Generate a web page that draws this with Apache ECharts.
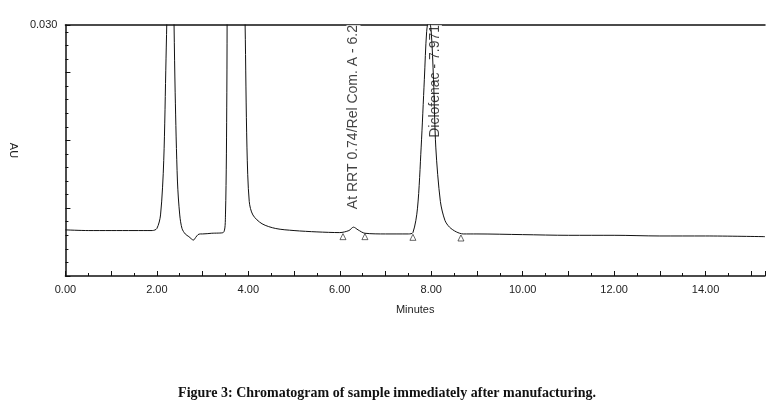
<!DOCTYPE html><html><head><meta charset="utf-8"><script src="https://cdn.jsdelivr.net/npm/echarts@6/dist/echarts.min.js"></script>
<style>body{margin:0;background:#fff}#c{width:774px;height:409px}</style></head><body><div id="c"></div><script>
const times=[0,0.5,1,1.5,1.9,2.0,2.08,2.15,2.2,2.25,2.3,2.35,2.4,2.45,2.5,2.55,2.62,2.7,2.8,2.85,2.9,2.95,3.0,3.2,3.45,3.5,3.53,3.55,3.6,3.7,3.8,3.88,3.93,3.97,4.02,4.1,4.3,4.6,5.0,5.5,6.0,6.2,6.3,6.4,6.55,7.0,7.5,7.6,7.7,7.78,7.85,7.9,7.95,8.0,8.05,8.1,8.2,8.3,8.4,8.55,8.7,9,10,11,12,13,14,15.3];
const au=[-0.0002,-0.0003,-0.0003,-0.0003,-0.0003,0.0,0.002,0.01,0.025,0.04,0.05,0.04,0.02,0.007,0.002,0.0,-0.0008,-0.0012,-0.0017,-0.0013,-0.0009,-0.0008,-0.0008,-0.0007,-0.0006,0.002,0.02,0.05,0.06,0.06,0.06,0.05,0.03,0.012,0.004,0.002,0.0007,0.0,-0.0003,-0.0005,-0.0006,-0.0003,0.0002,-0.0002,-0.0007,-0.0008,-0.0008,-0.0006,0.003,0.012,0.022,0.029,0.031,0.029,0.022,0.012,0.004,0.0012,0.0002,-0.0005,-0.0008,-0.0008,-0.0009,-0.001,-0.001,-0.0011,-0.0011,-0.0012];
const markerTimes=[6.07,6.55,7.6,8.65];
const markerAU=[-0.0012,-0.0012,-0.0013,-0.0014];
const peakLabels=['At RRT 0.74/Rel Com. A - 6.2','Diclofenac - 7.971'];
const peakTimes=[6.3,8.08];
const xTicks=[0,2,4,6,8,10,12,14];
const yTicks=[0,0.01,0.02,0.03];
const ch=echarts.init(document.getElementById('c'));
const font='Liberation Sans Narrow, Liberation Sans';
ch.setOption({animation:false,
grid:{left:50,right:9,top:25,bottom:133},
xAxis:[{type:'value',min:0,max:15.3,interval:1,name:'Minutes',nameLocation:'middle',nameGap:28,
 nameTextStyle:{fontFamily:font,fontSize:11,color:'#222'},
 axisLine:{onZero:false,lineStyle:{color:'#111',width:1.5}},axisTick:{inside:true,length:5,lineStyle:{color:'#111'}},
 minorTick:{show:true,splitNumber:2,length:3,lineStyle:{color:'#111'}},
 axisLabel:{fontFamily:font,fontSize:11,color:'#222',
  formatter:v=>xTicks.some(t=>Math.abs(t-v)<1e-6)?v.toFixed(2):''},splitLine:{show:false}},
 {type:'value',position:'top',min:0,max:15.3,axisLine:{onZero:false,lineStyle:{color:'#111',width:1.5}},axisTick:{show:false},axisLabel:{show:false},splitLine:{show:false}}],
yAxis:{type:'value',min:-0.007,max:0.03,interval:0.01,name:'AU',nameLocation:'middle',nameGap:42,nameRotate:-90,
 nameTextStyle:{fontFamily:'Liberation Sans',fontSize:11,color:'#222'},
 axisLine:{show:true,onZero:false,lineStyle:{color:'#111',width:1.5}},axisTick:{show:true,inside:true,length:5,lineStyle:{color:'#111'}},
 minorTick:{show:true,splitNumber:5,length:3,lineStyle:{color:'#111'}},
 axisLabel:{fontFamily:font,fontSize:11,color:'#222',
  formatter:v=>yTicks.some(t=>Math.abs(t-v)<1e-6)?Math.abs(v).toFixed(3):''},splitLine:{show:false}},
series:[
 {type:'line',data:times.map((t,i)=>[t,au[i]]),showSymbol:false,smooth:0.3,clip:true,lineStyle:{color:'#111',width:1}},
 {type:'scatter',data:markerTimes.map((t,i)=>[t,markerAU[i]]),symbol:'triangle',symbolSize:6,
  itemStyle:{color:'#fff',borderColor:'#111',borderWidth:0.8}},
 {type:'scatter',data:peakTimes.map((t,i)=>({value:[t,0.03],name:peakLabels[i]})),symbolSize:0,
  label:{show:true,rotate:90,position:[0,0],align:'right',verticalAlign:'middle',formatter:p=>p.name,
   fontFamily:'Liberation Sans',fontSize:14,color:'#111',backgroundColor:'#fff'}}
],
graphic:[{type:'text',left:'center',top:386,style:{text:'Figure 3: Chromatogram of sample immediately after manufacturing.',
 font:'bold 14px "Liberation Serif"',fill:'#111'}}]
});
</script></body></html>
